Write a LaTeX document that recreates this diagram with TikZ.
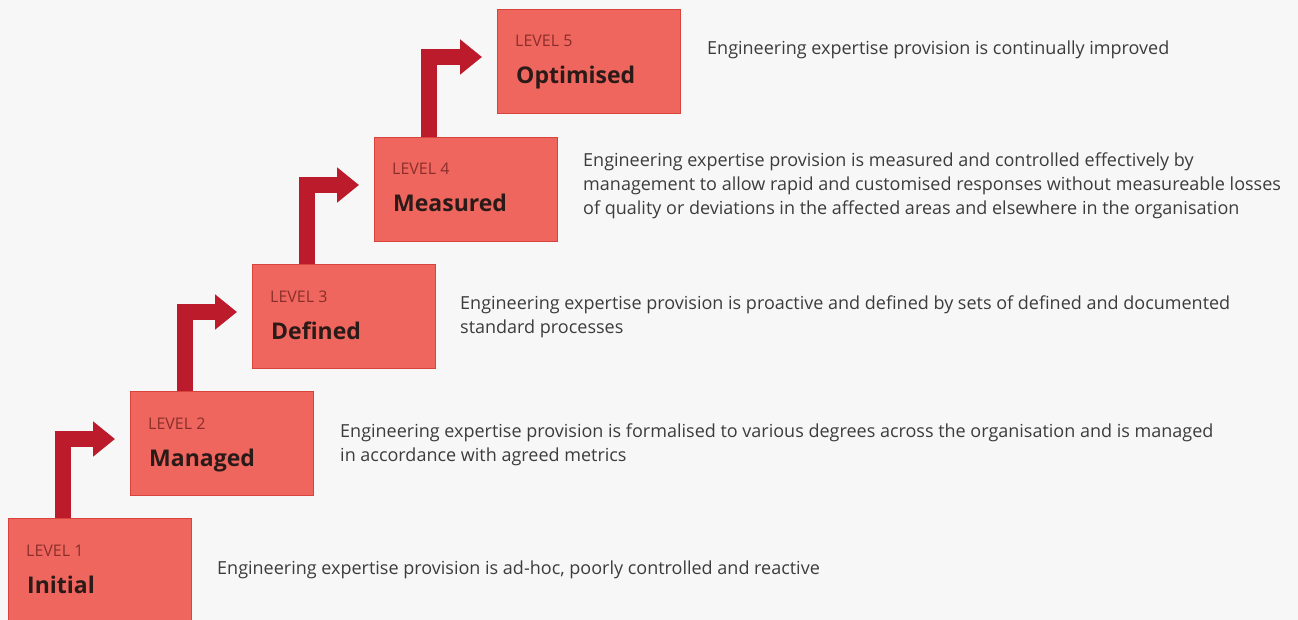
\documentclass[tikz,border=0pt]{standalone}
\usepackage{fontspec}
\setmainfont{Open Sans}
\usetikzlibrary{arrows.meta,calc}
\definecolor{bg}{HTML}{F7F7F7}
\definecolor{boxfill}{HTML}{EF665E}
\definecolor{boxline}{HTML}{D8443C}
\definecolor{arrowred}{HTML}{BC1B2C}
\definecolor{desc}{HTML}{3C3C3C}
\definecolor{lvl}{HTML}{8A2E2C}
\definecolor{ttl}{HTML}{2A1A18}
\tikzset{
  levelbox/.style={draw=boxline, line width=1pt, fill=boxfill, minimum width=183pt, minimum height=104pt, anchor=north west, inner sep=0pt},
  lvltext/.style={anchor=base west, inner sep=0pt, font=\fontsize{16}{18}\selectfont, text=lvl},
  ttltext/.style={anchor=base west, inner sep=0pt, font=\fontsize{23}{26}\selectfont\bfseries, text=ttl},
  desctext/.style={anchor=west, inner sep=0pt, align=left, font=\fontsize{18}{24}\selectfont, text=desc},
  stepArrow/.style={draw=arrowred, line width=16pt, line join=miter, -{Triangle[width=34pt,length=22pt]}},
}
\begin{document}
\begin{tikzpicture}[x=1pt,y=1pt]
\fill[bg] (0,0) rectangle (1298,-620);
\useasboundingbox (0,0) rectangle (1298,-620);
% boxes
\node[levelbox] (b1) at (8,-518) {};
\node[levelbox] (b2) at (130,-391) {};
\node[levelbox] (b3) at (252,-264) {};
\node[levelbox] (b4) at (374,-137) {};
\node[levelbox] (b5) at (497,-9) {};
% labels
\foreach \b/\l/\t in {b1/1/Initial, b2/2/Managed, b3/3/Defined, b4/4/Measured, b5/5/Optimised}{
  \node[lvltext] (\b l) at ($(\b.north west)+(18,-38)$) {LEVEL \l};
  \node[ttltext] (\b t) at ($(\b.north west)+(19,-75)$) {\t};
}
% arrows
\foreach \a/\b in {b1/b2, b2/b3, b3/b4, b4/b5}{
  \draw[stepArrow] ($(\a.north west)+(55,0)$) |- ($(\b.north west)+(-15,-48)$);
}
% descriptions
\node[desctext] (d1) at (217,-570) {Engineering expertise provision is ad-hoc, poorly controlled and reactive};
\node[desctext] (d2) at (340,-445) {Engineering expertise provision is formalised to various degrees across the organisation and is managed\\in accordance with agreed metrics};
\node[desctext] (d3) at (460,-317) {Engineering expertise provision is proactive and defined by sets of defined and documented\\standard processes};
\node[desctext] (d4) at (583,-186) {Engineering expertise provision is measured and controlled effectively by\\management to allow rapid and customised responses without measureable losses\\of quality or deviations in the affected areas and elsewhere in the organisation};
\node[desctext] (d5) at (707,-50) {Engineering expertise provision is continually improved};
\end{tikzpicture}
\end{document}
